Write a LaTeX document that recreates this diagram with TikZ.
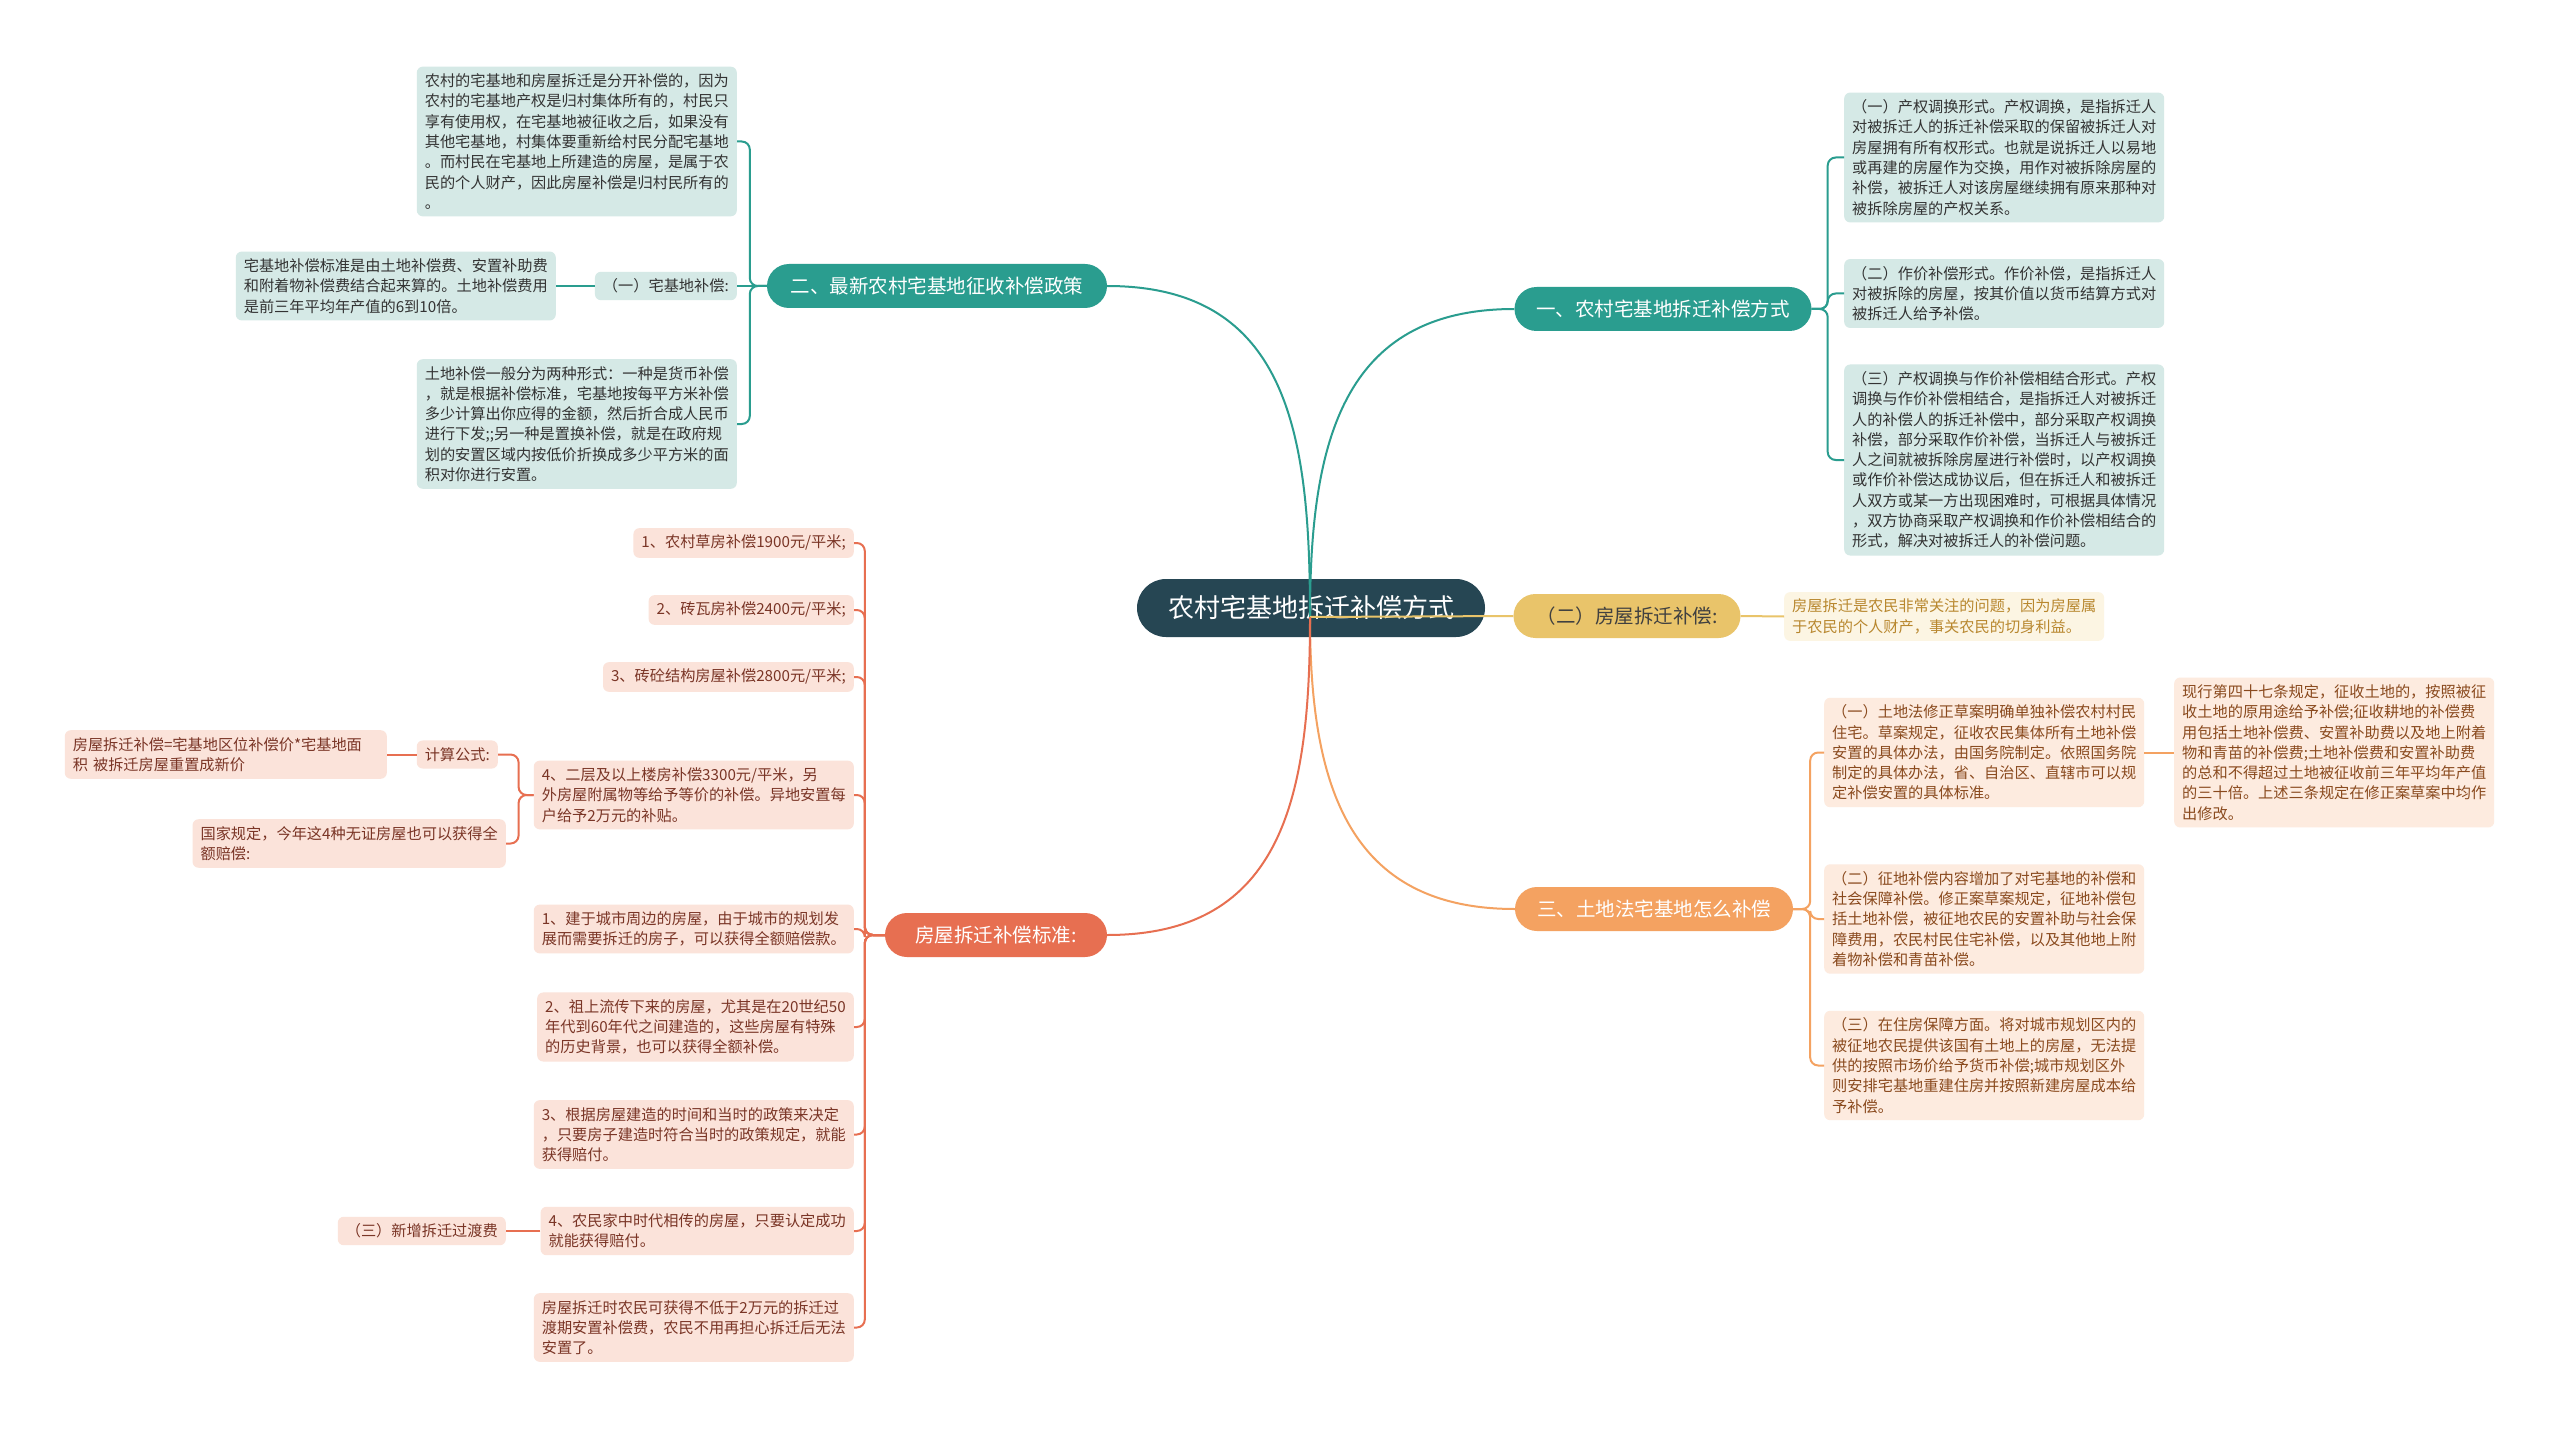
\documentclass[tikz,border=0pt]{standalone}
\usepackage{fontspec}
\setmainfont{Noto Sans CJK SC}
\definecolor{rootc}{HTML}{264653}
\definecolor{tealc}{HTML}{2A9D8F}
\definecolor{yelc}{HTML}{E9C46A}
\definecolor{orac}{HTML}{F4A261}
\definecolor{corc}{HTML}{E76F51}
\definecolor{tealbg}{HTML}{D5E9E6}
\definecolor{yelbg}{HTML}{FCF5E3}
\definecolor{orabg}{HTML}{FDEBDF}
\definecolor{corbg}{HTML}{FBE3DA}
\definecolor{tealtx}{HTML}{333333}
\definecolor{yeltx}{HTML}{B8872E}
\definecolor{oratx}{HTML}{8A4A1E}
\definecolor{cortx}{HTML}{7A3526}
\tikzset{
  rootbox/.style={fill=rootc, text=white, rounded corners=29pt, minimum width=348pt,
    minimum height=58pt, inner sep=0pt, font=\fontsize{26}{30}\selectfont},
  pill/.style={rounded corners=22pt, minimum height=44pt, inner sep=0pt,
    font=\fontsize{19.5}{22}\selectfont},
  leaf/.style={rounded corners=6pt, inner xsep=8pt, inner ysep=7pt, align=left,
    font=\fontsize{15.2}{20.3}\selectfont},
  tleaf/.style={leaf, fill=tealbg, text=tealtx},
  yleaf/.style={leaf, fill=yelbg, text=yeltx},
  oleaf/.style={leaf, fill=orabg, text=oratx},
  cleaf/.style={leaf, fill=corbg, text=cortx},
  tline/.style={draw=tealc, line width=2pt, rounded corners=8pt},
  yline/.style={draw=yelc, line width=2pt},
  oline/.style={draw=orac, line width=2pt, rounded corners=8pt},
  cline/.style={draw=corc, line width=2pt, rounded corners=8pt}
}
\begin{document}
\begin{tikzpicture}[x=1pt,y=-1pt]
\useasboundingbox[fill=white] (0,0) rectangle (2560,1431);

% main branches
\node[rootbox] (root) at (1311,608) {农村宅基地拆迁补偿方式};
\node[pill, fill=tealc, text=white, minimum width=340pt] (zc) at (937,286) {二、最新农村宅基地征收补偿政策};
\node[pill, fill=tealc, text=white, minimum width=297pt] (fs) at (1663,309) {一、农村宅基地拆迁补偿方式};
\node[pill, fill=yelc, text=black!75, minimum width=227pt] (fw) at (1627,616) {（二）房屋拆迁补偿:};
\node[pill, fill=orac, text=white, minimum width=278pt] (tdf) at (1654,909) {三、土地法宅基地怎么补偿};
\node[pill, fill=corc, text=white, minimum width=222pt] (bz) at (996,935) {房屋拆迁补偿标准:};

% 政策
\node[tleaf, anchor=east] (zc1) at (737,141.5) {农村的宅基地和房屋拆迁是分开补偿的，因为\\农村的宅基地产权是归村集体所有的，村民只\\享有使用权，在宅基地被征收之后，如果没有\\其他宅基地，村集体要重新给村民分配宅基地\\。而村民在宅基地上所建造的房屋，是属于农\\民的个人财产，因此房屋补偿是归村民所有的\\。};
\node[tleaf, anchor=east] (zc2) at (737,286) {（一）宅基地补偿:};
\node[tleaf, anchor=east] (zc21) at (556,286) {宅基地补偿标准是由土地补偿费、安置补助费\\和附着物补偿费结合起来算的。土地补偿费用\\是前三年平均年产值的6到10倍。};
\node[tleaf, anchor=east] (zc3) at (737,424) {土地补偿一般分为两种形式：一种是货币补偿\\，就是根据补偿标准，宅基地按每平方米补偿\\多少计算出你应得的金额，然后折合成人民币\\进行下发;;另一种是置换补偿，就是在政府规\\划的安置区域内按低价折换成多少平方米的面\\积对你进行安置。};

% 方式
\node[tleaf, anchor=west] (fs1) at (1844,157.5) {（一）产权调换形式。产权调换，是指拆迁人\\对被拆迁人的拆迁补偿采取的保留被拆迁人对\\房屋拥有所有权形式。也就是说拆迁人以易地\\或再建的房屋作为交换，用作对被拆除房屋的\\补偿，被拆迁人对该房屋继续拥有原来那种对\\被拆除房屋的产权关系。};
\node[tleaf, anchor=west] (fs2) at (1844,293.5) {（二）作价补偿形式。作价补偿，是指拆迁人\\对被拆除的房屋，按其价值以货币结算方式对\\被拆迁人给予补偿。};
\node[tleaf, anchor=west] (fs3) at (1844,460) {（三）产权调换与作价补偿相结合形式。产权\\调换与作价补偿相结合，是指拆迁人对被拆迁\\人的补偿人的拆迁补偿中，部分采取产权调换\\补偿，部分采取作价补偿，当拆迁人与被拆迁\\人之间就被拆除房屋进行补偿时，以产权调换\\或作价补偿达成协议后，但在拆迁人和被拆迁\\人双方或某一方出现困难时，可根据具体情况\\，双方协商采取产权调换和作价补偿相结合的\\形式，解决对被拆迁人的补偿问题。};

% 房屋拆迁补偿
\node[yleaf, anchor=west] (fw1) at (1784,616.5) {房屋拆迁是农民非常关注的问题，因为房屋属\\于农民的个人财产，事关农民的切身利益。};

% 土地法
\node[oleaf, anchor=west] (tdf1) at (1824,752.5) {（一）土地法修正草案明确单独补偿农村村民\\住宅。草案规定，征收农民集体所有土地补偿\\安置的具体办法，由国务院制定。依照国务院\\制定的具体办法，省、自治区、直辖市可以规\\定补偿安置的具体标准。};
\node[oleaf, anchor=west] (tdf11) at (2174,752.5) {现行第四十七条规定，征收土地的，按照被征\\收土地的原用途给予补偿;征收耕地的补偿费\\用包括土地补偿费、安置补助费以及地上附着\\物和青苗的补偿费;土地补偿费和安置补助费\\的总和不得超过土地被征收前三年平均年产值\\的三十倍。上述三条规定在修正案草案中均作\\出修改。};
\node[oleaf, anchor=west] (tdf2) at (1824,919) {（二）征地补偿内容增加了对宅基地的补偿和\\社会保障补偿。修正案草案规定，征地补偿包\\括土地补偿，被征地农民的安置补助与社会保\\障费用，农民村民住宅补偿，以及其他地上附\\着物补偿和青苗补偿。};
\node[oleaf, anchor=west] (tdf3) at (1824,1065.5) {（三）在住房保障方面。将对城市规划区内的\\被征地农民提供该国有土地上的房屋，无法提\\供的按照市场价给予货币补偿;城市规划区外\\则安排宅基地重建住房并按照新建房屋成本给\\予补偿。};

% 补偿标准
\node[cleaf, anchor=east] (bz1) at (854,543) {1、农村草房补偿1900元/平米;};
\node[cleaf, anchor=east] (bz2) at (854,610) {2、砖瓦房补偿2400元/平米;};
\node[cleaf, anchor=east] (bz3) at (854,677) {3、砖砼结构房屋补偿2800元/平米;};
\node[cleaf, anchor=east] (bz4) at (854,795) {4、二层及以上楼房补偿3300元/平米，另\\外房屋附属物等给予等价的补偿。异地安置每\\户给予2万元的补贴。};
\node[cleaf, anchor=east] (bz41) at (498,754.5) {计算公式:};
\node[cleaf, anchor=east, text width=306pt] (bz411) at (387,754.5) {房屋拆迁补偿=宅基地区位补偿价*宅基地面\\积 被拆迁房屋重置成新价};
\node[cleaf, anchor=east] (bz42) at (506,843.5) {国家规定，今年这4种无证房屋也可以获得全\\额赔偿:};
\node[cleaf, anchor=east] (bz5) at (854,929) {1、建于城市周边的房屋，由于城市的规划发\\展而需要拆迁的房子，可以获得全额赔偿款。};
\node[cleaf, anchor=east] (bz6) at (854,1027) {2、祖上流传下来的房屋，尤其是在20世纪50\\年代到60年代之间建造的，这些房屋有特殊\\的历史背景，也可以获得全额补偿。};
\node[cleaf, anchor=east] (bz7) at (854,1134.5) {3、根据房屋建造的时间和当时的政策来决定\\，只要房子建造时符合当时的政策规定，就能\\获得赔付。};
\node[cleaf, anchor=east] (bz8) at (854,1231) {4、农民家中时代相传的房屋，只要认定成功\\就能获得赔付。};
\node[cleaf, anchor=east] (bz81) at (506,1231) {（三）新增拆迁过渡费};
\node[cleaf, anchor=east] (bz9) at (854,1327.5) {房屋拆迁时农民可获得不低于2万元的拆迁过\\渡期安置补偿费，农民不用再担心拆迁后无法\\安置了。};

% connectors
\coordinate (hub) at (1310,617);
\draw[tline] (hub) to[out=90,in=0,looseness=1.2] (zc.east);
\draw[tline] (hub) to[out=90,in=180,looseness=1.2] (fs.west);
\draw[yline] (hub) -- (fw.west);
\draw[oline] (hub) to[out=-90,in=180,looseness=1.2] (tdf.west);
\draw[cline] (hub) to[out=-90,in=0,looseness=1.2] (bz.east);

\draw[tline] (zc.west) -- ++(-17,0) |- (zc1.east);
\draw[tline] (zc.west) -- (zc2.east);
\draw[tline] (zc.west) -- ++(-17,0) |- (zc3.east);
\draw[tline] (zc2.west) -- (zc21.east);

\draw[tline] (fs.east) -- ++(16,0) |- (fs1.west);
\draw[tline] (fs.east) -- ++(16,0) |- (fs2.west);
\draw[tline] (fs.east) -- ++(16,0) |- (fs3.west);

\draw[yline] (fw.east) -- (fw1.west);

\draw[oline] (tdf.east) -- ++(17,0) |- (tdf1.west);
\draw[oline] (tdf.east) -- ++(17,0) |- (tdf2.west);
\draw[oline] (tdf.east) -- ++(17,0) |- (tdf3.west);
\draw[oline] (tdf1.east) -- (tdf11.west);

\draw[cline] (bz.west) -- ++(-20,0) |- (bz1.east);
\draw[cline] (bz.west) -- ++(-20,0) |- (bz2.east);
\draw[cline] (bz.west) -- ++(-20,0) |- (bz3.east);
\draw[cline] (bz.west) -- ++(-20,0) |- (bz4.east);
\draw[cline] (bz.west) -- ++(-20,0) |- (bz5.east);
\draw[cline] (bz.west) -- ++(-20,0) |- (bz6.east);
\draw[cline] (bz.west) -- ++(-20,0) |- (bz7.east);
\draw[cline] (bz.west) -- ++(-20,0) |- (bz8.east);
\draw[cline] (bz.west) -- ++(-20,0) |- (bz9.east);
\draw[cline] (bz4.west) -- ++(-15,0) |- (bz41.east);
\draw[cline] (bz4.west) -- ++(-15,0) |- (bz42.east);
\draw[cline] (bz41.west) -- (bz411.east);
\draw[cline] (bz8.west) -- (bz81.east);
\end{tikzpicture}
\end{document}
